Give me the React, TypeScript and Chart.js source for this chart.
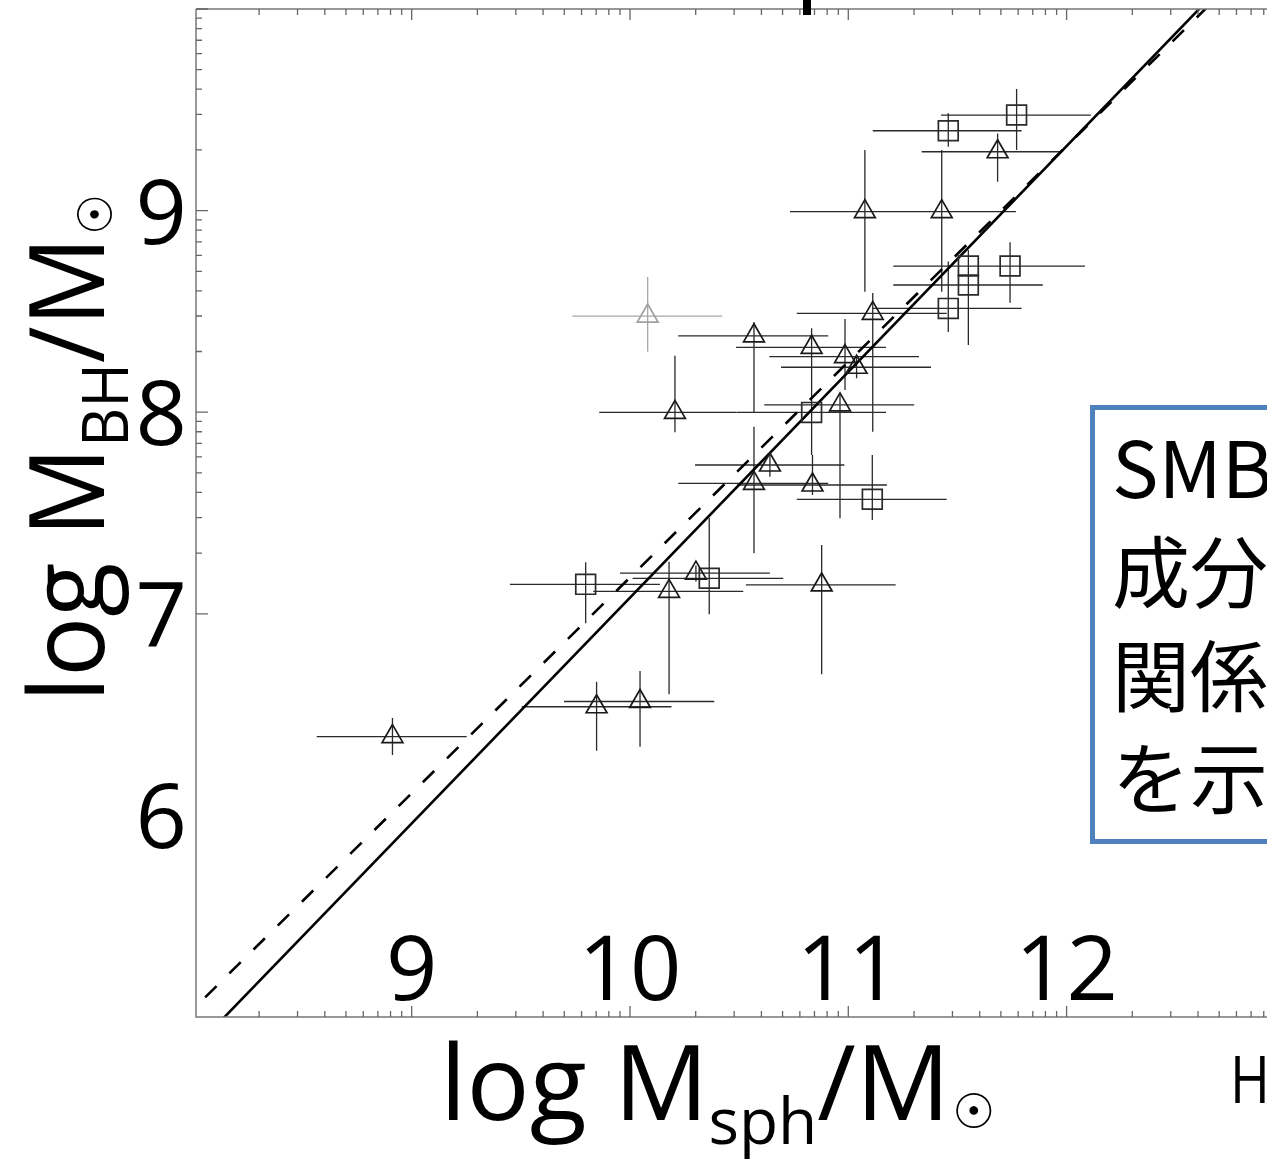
import React, { useEffect, useRef } from "react";
import { Chart, registerables } from "chart.js";

Chart.register(...registerables);

// Triangles: log M_sph (x), log M_BH (y) and error-bar bounds
const triX = [8.912, 9.847, 10.046, 10.179, 10.302, 10.878, 10.568, 10.641, 10.836, 10.962, 10.206, 10.568, 10.832, 10.985, 11.038, 11.112, 11.076, 11.428, 11.684];
const triY = [6.391, 6.539, 6.565, 7.111, 7.202, 7.143, 7.647, 7.738, 7.639, 8.036, 7.999, 8.379, 8.322, 8.276, 8.223, 8.49, 8.995, 8.995, 9.292];
const triXLo = [8.565, 9.504, 9.698, 9.832, 9.954, 10.531, 10.221, 10.298, 10.49, 10.615, 9.859, 10.221, 10.486, 10.638, 10.692, 10.764, 10.733, 11.081, 11.336];
const triXHi = [9.252, 10.19, 10.386, 10.519, 10.641, 11.217, 10.908, 10.982, 11.177, 11.302, 10.489, 10.908, 11.173, 11.324, 11.379, 11.451, 11.42, 11.768, 11.97];
const triYLo = [6.3, 6.321, 6.341, 6.601, 7.16, 6.7, 7.3, 7.68, 7.589, 7.474, 7.9, 7.999, 8.219, 8.11, 8.168, 7.903, 8.598, 8.598, 9.143];
const triYHi = [6.483, 6.663, 6.716, 7.258, 7.24, 7.341, 7.928, 7.798, 7.788, 8.085, 8.28, 8.446, 8.416, 8.462, 8.275, 8.591, 9.301, 9.301, 9.383];

// Squares
const sqX = [9.797, 10.363, 10.832, 11.11, 11.458, 11.55, 11.55, 11.741, 11.458, 11.771];
const sqY = [7.146, 7.176, 7.999, 7.568, 8.515, 8.725, 8.631, 8.725, 9.396, 9.474];
const sqXLo = [9.45, 10.012, 10.49, 10.764, 11.113, 11.206, 11.206, 11.397, 11.112, 11.425];
const sqXHi = [10.137, 10.702, 11.173, 11.451, 11.794, 11.886, 11.891, 12.084, 11.794, 12.111];
const sqYLo = [6.953, 6.998, 7.788, 7.465, 8.398, 8.631, 8.333, 8.543, 9.317, 9.301];
const sqYHi = [7.256, 7.475, 8.219, 7.788, 8.747, 8.805, 8.73, 8.843, 9.483, 9.603];

// Gray (excluded) triangle
const grayX = [10.081];
const grayY = [8.477];
const grayXLo = [9.736];
const grayXHi = [10.423];
const grayYLo = [8.3];
const grayYHi = [8.671];

// Fit lines: log M_BH = a + b (log M_sph - 11)
const solidFit = [8.2, 1.12];
const dashedFit = [8.25, 1.07];

const xTickLabels = [9, 10, 11, 12];
const yTickLabels = [6, 7, 8, 9];
const boxLines = ["SMB", "成分", "関係", "を示"];

const X_MIN = 8.012;
const X_MAX = 12.918;
const Y_MIN = 5;
const Y_MAX = 10;

const FONT = '"Open Sans", "Noto Sans", sans-serif';

function fitPoints(fit: number[]) {
  const xs = [7.5, 13.5];
  return xs.map((x) => ({ x, y: fit[0] + fit[1] * (x - 11) }));
}

function toPts(xs: number[], ys: number[]) {
  return xs.map((x, i) => ({ x, y: ys[i] }));
}

const overlay = {
  id: "overlay",
  beforeDatasetsDraw(chart: any) {
    const { ctx } = chart;
    const xs = chart.scales.x;
    const ys = chart.scales.y;
    ctx.save();
    ctx.lineWidth = 1.3;
    const drawSet = (X: number[], Y: number[], xl: number[], xh: number[], yl: number[], yh: number[], color: string) => {
      ctx.strokeStyle = color;
      ctx.beginPath();
      for (let i = 0; i < X.length; i++) {
        const px = xs.getPixelForValue(X[i]);
        const py = ys.getPixelForValue(Y[i]);
        ctx.moveTo(xs.getPixelForValue(xl[i]), py);
        ctx.lineTo(xs.getPixelForValue(xh[i]), py);
        ctx.moveTo(px, ys.getPixelForValue(yl[i]));
        ctx.lineTo(px, ys.getPixelForValue(yh[i]));
      }
      ctx.stroke();
    };
    drawSet(grayX, grayY, grayXLo, grayXHi, grayYLo, grayYHi, "#a8a8a8");
    drawSet(triX, triY, triXLo, triXHi, triYLo, triYHi, "#2a2a2a");
    drawSet(sqX, sqY, sqXLo, sqXHi, sqYLo, sqYHi, "#2a2a2a");
    ctx.restore();
  },
  afterDraw(chart: any) {
    const { ctx, chartArea } = chart;
    const xs = chart.scales.x;
    const ys = chart.scales.y;
    const { left, right, top, bottom } = chartArea;
    ctx.save();
    // axes
    ctx.strokeStyle = "#777777";
    ctx.lineWidth = 1.5;
    ctx.beginPath();
    ctx.moveTo(left, top);
    ctx.lineTo(right + 2, top);
    ctx.moveTo(left, top);
    ctx.lineTo(left, bottom);
    ctx.lineTo(right + 2, bottom);
    ctx.stroke();
    // log-style ticks
    ctx.lineWidth = 1.3;
    ctx.strokeStyle = "#666666";
    ctx.beginPath();
    for (let d = 7; d <= 13; d++) {
      for (let k = 1; k <= 9; k++) {
        const v = d + Math.log10(k);
        if (v >= X_MIN && v <= X_MAX + 0.01) {
          const p = xs.getPixelForValue(v);
          const len = k === 1 ? 11 : 6;
          ctx.moveTo(p, bottom);
          ctx.lineTo(p, bottom - len);
          ctx.moveTo(p, top);
          ctx.lineTo(p, top + len);
        }
        if (v >= Y_MIN && v <= Y_MAX) {
          const p = ys.getPixelForValue(v);
          const len = k === 1 ? 12 : 6;
          ctx.moveTo(left, p);
          ctx.lineTo(left + len, p);
        }
      }
    }
    ctx.stroke();

    // tick labels
    ctx.fillStyle = "#000000";
    ctx.font = `90px ${FONT}`;
    ctx.textAlign = "center";
    ctx.textBaseline = "alphabetic";
    xTickLabels.forEach((t) => {
      ctx.fillText(String(t), xs.getPixelForValue(t), bottom - 17);
    });
    ctx.textAlign = "right";
    yTickLabels.forEach((t) => {
      ctx.fillText(String(t), left - 9, ys.getPixelForValue(t) + 33);
    });

    // axis titles
    const main = `105px ${FONT}`;
    const sub = `64px ${FONT}`;
    const sun = `48px "DejaVu Sans", sans-serif`;
    const drawTitle = (subText: string) => {
      ctx.textAlign = "left";
      let w = 0;
      ctx.font = main;
      ctx.fillText("log M", w, 0);
      w += ctx.measureText("log M").width;
      ctx.font = sub;
      ctx.fillText(subText, w, 24);
      w += ctx.measureText(subText).width;
      ctx.font = main;
      ctx.fillText("/M", w, 0);
      w += ctx.measureText("/M").width;
      ctx.font = sun;
      ctx.fillText("☉", w + 2, 8);
    };
    ctx.save();
    ctx.translate(440, 1120);
    drawTitle("sph");
    ctx.restore();
    ctx.save();
    ctx.translate(104, 702);
    ctx.rotate(-Math.PI / 2);
    ctx.scale(0.95, 1);
    drawTitle("BH");
    ctx.restore();

    // text box
    ctx.strokeStyle = "#4F81BD";
    ctx.lineWidth = 5;
    ctx.strokeRect(1092.5, 407.5, 400, 434);
    ctx.fillStyle = "#000000";
    ctx.textAlign = "left";
    ctx.font = `78px "Noto Sans CJK JP", sans-serif`;
    const baselines = [498, 602, 706, 808];
    boxLines.forEach((s, i) => ctx.fillText(s, 1112, baselines[i]));

    // fragments of slide text at edges
    ctx.save();
    ctx.translate(1230, 1103);
    ctx.scale(0.82, 1);
    ctx.font = `66px ${FONT}`;
    ctx.fillText("H", 0, 0);
    ctx.restore();
    ctx.fillRect(803, 0, 8, 15);
    ctx.restore();
  },
};

export default function App() {
  const ref = useRef<HTMLCanvasElement | null>(null);
  useEffect(() => {
    if (!ref.current) return;
    const chart = new Chart(ref.current, {
      type: "scatter",
      data: {
        datasets: [
          {
            label: "gray",
            data: toPts(grayX, grayY),
            pointStyle: "triangle",
            pointRadius: 12,
            borderColor: "#a0a0a0",
            backgroundColor: "rgba(0,0,0,0)",
            borderWidth: 1.7,
          },
          {
            label: "triangles",
            data: toPts(triX, triY),
            pointStyle: "triangle",
            pointRadius: 12,
            borderColor: "#1a1a1a",
            backgroundColor: "rgba(0,0,0,0)",
            borderWidth: 1.7,
          },
          {
            label: "squares",
            data: toPts(sqX, sqY),
            pointStyle: "rect",
            pointRadius: 14,
            borderColor: "#2a2a2a",
            backgroundColor: "rgba(0,0,0,0)",
            borderWidth: 1.7,
          },
          {
            label: "fit",
            data: fitPoints(solidFit),
            showLine: true,
            pointRadius: 0,
            borderColor: "#000000",
            borderWidth: 2.6,
          },
          {
            label: "fit2",
            data: fitPoints(dashedFit),
            showLine: true,
            pointRadius: 0,
            borderColor: "#000000",
            borderWidth: 2.6,
            borderDash: [16, 18],
          },
        ],
      },
      options: {
        animation: false,
        responsive: false,
        devicePixelRatio: 1,
        layout: { autoPadding: false, padding: { left: 196, top: 9, right: 0, bottom: 149 } },
        plugins: { legend: { display: false }, tooltip: { enabled: false } },
        scales: {
          x: { type: "linear", min: X_MIN, max: X_MAX, display: false },
          y: { type: "linear", min: Y_MIN, max: Y_MAX, display: false },
        },
      },
      plugins: [overlay],
    });
    return () => chart.destroy();
  }, []);
  return (
    <div style={{ position: "fixed", left: 0, top: 0, width: 1267, height: 1166, overflow: "hidden", background: "#fff" }}>
      <canvas ref={ref} width={1267} height={1166} style={{ display: "block" }} />
    </div>
  );
}
